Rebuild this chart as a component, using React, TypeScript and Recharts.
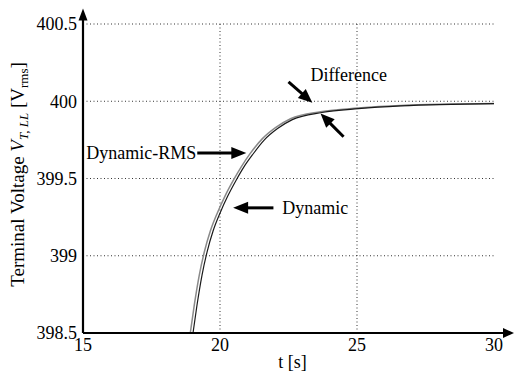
import React from 'react';
import { LineChart, Line, XAxis, YAxis, ReferenceLine, ReferenceDot } from 'recharts';

// Dynamic-RMS trace (left, grey)
const rmsT = [18.915, 19.061, 19.244, 19.427, 19.647, 19.903, 20.196, 20.489, 20.781, 21.111, 21.549, 22.025, 22.574, 23.672, 25.025, 26.598, 30];
const rmsV = [398.5, 398.681, 398.875, 399.024, 399.16, 399.277, 399.391, 399.489, 399.577, 399.664, 399.758, 399.829, 399.887, 399.932, 399.956, 399.973, 399.985];

// Dynamic trace (right, black)
const dynT = [19.015, 19.161, 19.344, 19.527, 19.747, 20.003, 20.296, 20.589, 20.88, 21.2, 21.62, 22.1, 22.64, 23.72, 25.05, 26.6, 30];
const dynV = [398.5, 398.681, 398.875, 399.024, 399.16, 399.277, 399.391, 399.489, 399.577, 399.657, 399.75, 399.823, 399.881, 399.927, 399.952, 399.97, 399.985];

const xTicks = [15, 20, 25, 30];
const yTicks = [398.5, 399, 399.5, 400, 400.5];
const xGrid = [20, 25];
const yGrid = [399, 399.5, 400, 400.5];

const rmsData = rmsT.map((t, i) => ({ t, v: rmsV[i] }));
const dynData = dynT.map((t, i) => ({ t, v: dynV[i] }));

const FONT = '"Liberation Serif", "Times New Roman", serif';

// line with a filled arrow head at (x2, y2)
const Arrow = (head: number, half: number, width: number) => (p: any) => {
  const { x1, y1, x2, y2 } = p;
  const dx = x2 - x1;
  const dy = y2 - y1;
  const len = Math.sqrt(dx * dx + dy * dy) || 1;
  const ux = dx / len;
  const uy = dy / len;
  const bx = x2 - ux * head;
  const by = y2 - uy * head;
  const pts = `${x2},${y2} ${bx - uy * half},${by + ux * half} ${bx + uy * half},${by - ux * half}`;
  return (
    <g>
      <line x1={x1} y1={y1} x2={bx + ux} y2={by + uy} stroke="#000" strokeWidth={width} />
      <polygon points={pts} fill="#000" />
    </g>
  );
};

const Note = (text: string, anchor: 'start' | 'middle' | 'end') => (p: any) => (
  <text x={p.cx} y={p.cy} dy="0.35em" textAnchor={anchor} fontFamily={FONT} fontSize={18} fill="#000">
    {text}
  </text>
);

const YLabel = (props: any) => {
  const vb = props.viewBox;
  const x = vb.x + vb.width - 59;
  const y = vb.y + vb.height / 2 - 4;
  return (
    <text x={x} y={y} transform={`rotate(-90, ${x}, ${y})`} textAnchor="middle" fontFamily={FONT} fontSize={19} fill="#000">
      Terminal Voltage <tspan fontStyle="italic">V</tspan>
      <tspan fontStyle="italic" fontSize={13} dy={4}>T, LL</tspan>
      <tspan dy={-4}> [V</tspan>
      <tspan fontSize={13} dy={4}>rms</tspan>
      <tspan dy={-4}>]</tspan>
    </text>
  );
};

const XLabel = (props: any) => {
  const vb = props.viewBox;
  return (
    <text x={vb.x + vb.width / 2 + 4} y={vb.y + 35} textAnchor="middle" fontFamily={FONT} fontSize={18} fill="#000">
      t [s]
    </text>
  );
};

const gridStyle = { stroke: '#333', strokeDasharray: '1 2.5', strokeWidth: 1 };

export default function App() {
  return (
    <div style={{ position: 'absolute', left: 0, top: 0, background: '#fff' }}>
      <LineChart width={515} height={374} margin={{ top: 24, right: 21, bottom: 11, left: 23 }}>
        <XAxis
          type="number"
          dataKey="t"
          domain={[15, 30]}
          ticks={xTicks}
          allowDataOverflow
          axisLine={false}
          tickLine={false}
          tickSize={0}
          tickMargin={5}
          height={30}
          tick={{ fontFamily: FONT, fontSize: 18, fill: '#000' }}
          label={<XLabel />}
        />
        <YAxis
          type="number"
          domain={[398.5, 400.5]}
          ticks={yTicks}
          allowDataOverflow
          axisLine={false}
          tickLine={false}
          tickSize={0}
          tickMargin={6}
          width={60}
          tick={{ fontFamily: FONT, fontSize: 18, fill: '#000' }}
          label={<YLabel />}
        />
        <YAxis
          yAxisId="r"
          orientation="right"
          mirror
          type="number"
          domain={[398.5, 400.5]}
          ticks={yTicks}
          axisLine={false}
          tickLine={{ stroke: '#000', strokeWidth: 1.2 }}
          tickSize={8}
          width={1}
          tick={() => <g />}
        />

        {xGrid.map((x) => (
          <ReferenceLine key={`gx${x}`} x={x} {...gridStyle} />
        ))}
        {yGrid.map((y) => (
          <ReferenceLine key={`gy${y}`} y={y} {...gridStyle} />
        ))}

        <Line data={rmsData} dataKey="v" type="monotone" stroke="#8a8a8a" strokeWidth={1.5} dot={false} isAnimationActive={false} />
        <Line data={dynData} dataKey="v" type="monotone" stroke="#1a1a1a" strokeWidth={1.2} dot={false} isAnimationActive={false} />

        {/* axes with arrow heads */}
        <ReferenceLine segment={[{ x: 15, y: 398.5 }, { x: 30.73, y: 398.5 }]} ifOverflow="visible" shape={Arrow(11, 5, 2.2)} />
        <ReferenceLine segment={[{ x: 15, y: 398.5 }, { x: 15, y: 400.6 }]} ifOverflow="visible" shape={Arrow(12, 4.5, 2.2)} />

        {/* annotations */}
        <ReferenceLine segment={[{ x: 19.17, y: 399.665 }, { x: 20.96, y: 399.665 }]} ifOverflow="visible" shape={Arrow(15, 6, 3)} />
        <ReferenceLine segment={[{ x: 21.95, y: 399.31 }, { x: 20.48, y: 399.31 }]} ifOverflow="visible" shape={Arrow(15, 6, 3)} />
        <ReferenceLine segment={[{ x: 22.5, y: 400.125 }, { x: 23.37, y: 399.99 }]} ifOverflow="visible" shape={Arrow(14, 6, 3)} />
        <ReferenceLine segment={[{ x: 24.51, y: 399.77 }, { x: 23.67, y: 399.92 }]} ifOverflow="visible" shape={Arrow(14, 6, 3)} />

        <ReferenceDot x={19.13} y={399.665} r={0} ifOverflow="visible" shape={Note('Dynamic-RMS', 'end')} />
        <ReferenceDot x={22.27} y={399.31} r={0} ifOverflow="visible" shape={Note('Dynamic', 'start')} />
        <ReferenceDot x={24.7} y={400.175} r={0} ifOverflow="visible" shape={Note('Difference', 'middle')} />
      </LineChart>
    </div>
  );
}
